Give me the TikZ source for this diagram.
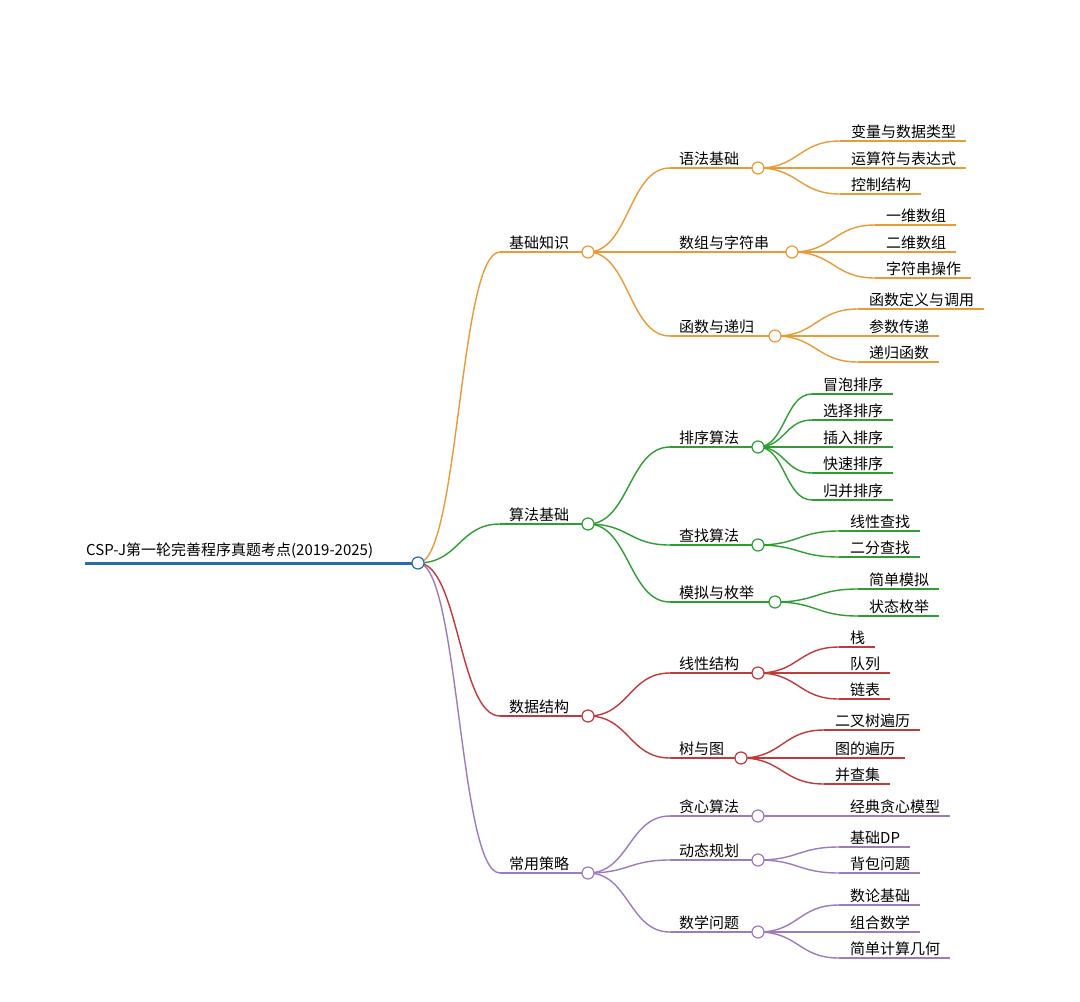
\documentclass[tikz,border=0pt]{standalone}
\usepackage{fontspec}
\setmainfont{Noto Sans CJK SC}
\usetikzlibrary{calc}
\definecolor{cO}{HTML}{E89B38}
\definecolor{cG}{HTML}{2E9E34}
\definecolor{cR}{HTML}{C0393B}
\definecolor{cP}{HTML}{9E7BBF}
\definecolor{cB}{HTML}{2A6DAF}
\tikzset{lbl/.style={anchor=south west,inner sep=2pt,font=\fontsize{15}{16}\selectfont},
 br/.style={line width=1.4pt},
 dot/.style={circle,fill=white,line width=1.2pt,minimum size=12pt,inner sep=0pt}}
\newcommand\curveto[3]{\draw[br,#3] let \p1=(#1), \p2=(#2) in (#1) .. controls ({\x1/2+\x2/2},\y1) and ({\x1/2+\x2/2},\y2) .. (#2);}
% name, parent, xs, y, cx, text, color
\newcommand\mmmid[7]{\coordinate (#1s) at (#3,#4); \coordinate (#1) at (#5,#4);
 \node[lbl] (#1t) at (#3+7,#4) {#6};
 \draw[br,#7] (#1s) -- (#1); \curveto{#2}{#1s}{#7}}
% name, parent, xs, y, text, color
\newcommand\mmleaf[6]{\coordinate (#1s) at (#3,#4);
 \node[lbl] (#1t) at (#3+9,#4) {#5};
 \coordinate (#1e) at ($(#1t.south east)+(8,0)$);
 \draw[br,#6] (#1s) -- (#1e); \curveto{#2}{#1s}{#6}}
\begin{document}
\begin{tikzpicture}[x=1pt,y=-1pt]
\useasboundingbox (0,0) rectangle (1080,1002);
\fill[white] (0,0) rectangle (1080,1002);
\coordinate (root) at (418,563);
\node[lbl,anchor=south west] (roott) at (84,561) {CSP-J第一轮完善程序真题考点(2019-2025)};
\draw[line width=3pt,cB] (85,563) -- (root);
% level 1
\mmmid{A}{root}{500}{252}{588}{基础知识}{cO}
\mmmid{B}{root}{500}{524}{588}{算法基础}{cG}
\mmmid{C}{root}{500}{716}{588}{数据结构}{cR}
\mmmid{D}{root}{500}{873}{588}{常用策略}{cP}
% level 2
\mmmid{A1}{A}{670}{168}{758}{语法基础}{cO}
\mmmid{A2}{A}{670}{252}{792}{数组与字符串}{cO}
\mmmid{A3}{A}{670}{336}{775}{函数与递归}{cO}
\mmmid{B1}{B}{670}{447}{758}{排序算法}{cG}
\mmmid{B2}{B}{670}{545}{758}{查找算法}{cG}
\mmmid{B3}{B}{670}{602}{775}{模拟与枚举}{cG}
\mmmid{C1}{C}{670}{673}{758}{线性结构}{cR}
\mmmid{C2}{C}{670}{758}{741}{树与图}{cR}
\mmmid{D1}{D}{670}{816}{758}{贪心算法}{cP}
\mmmid{D2}{D}{670}{860}{758}{动态规划}{cP}
\mmmid{D3}{D}{670}{932}{758}{数学问题}{cP}
% leaves
\mmleaf{a11}{A1}{840}{141}{变量与数据类型}{cO}
\mmleaf{a12}{A1}{840}{168}{运算符与表达式}{cO}
\mmleaf{a13}{A1}{840}{194}{控制结构}{cO}
\mmleaf{a21}{A2}{875}{225}{一维数组}{cO}
\mmleaf{a22}{A2}{875}{252}{二维数组}{cO}
\mmleaf{a23}{A2}{875}{278}{字符串操作}{cO}
\mmleaf{a31}{A3}{858}{309}{函数定义与调用}{cO}
\mmleaf{a32}{A3}{858}{336}{参数传递}{cO}
\mmleaf{a33}{A3}{858}{362}{递归函数}{cO}
\mmleaf{b11}{B1}{812}{394}{冒泡排序}{cG}
\mmleaf{b12}{B1}{812}{420}{选择排序}{cG}
\mmleaf{b13}{B1}{812}{447}{插入排序}{cG}
\mmleaf{b14}{B1}{812}{473}{快速排序}{cG}
\mmleaf{b15}{B1}{812}{500}{归并排序}{cG}
\mmleaf{b21}{B2}{839}{531}{线性查找}{cG}
\mmleaf{b22}{B2}{839}{557}{二分查找}{cG}
\mmleaf{b31}{B3}{858}{589}{简单模拟}{cG}
\mmleaf{b32}{B3}{858}{616}{状态枚举}{cG}
\mmleaf{c11}{C1}{839}{647}{栈}{cR}
\mmleaf{c12}{C1}{839}{673}{队列}{cR}
\mmleaf{c13}{C1}{839}{699}{链表}{cR}
\mmleaf{c21}{C2}{824}{730}{二叉树遍历}{cR}
\mmleaf{c22}{C2}{824}{758}{图的遍历}{cR}
\mmleaf{c23}{C2}{824}{784}{并查集}{cR}
\mmleaf{d11}{D1}{839}{816}{经典贪心模型}{cP}
\mmleaf{d21}{D2}{839}{847}{基础DP}{cP}
\mmleaf{d22}{D2}{839}{873}{背包问题}{cP}
\mmleaf{d31}{D3}{839}{905}{数论基础}{cP}
\mmleaf{d32}{D3}{839}{932}{组合数学}{cP}
\mmleaf{d33}{D3}{839}{958}{简单计算几何}{cP}
% dots
\node[dot,draw=cB] at (root) {};
\foreach \n in {A,A1,A2,A3} \node[dot,draw=cO] at (\n) {};
\foreach \n in {B,B1,B2,B3} \node[dot,draw=cG] at (\n) {};
\foreach \n in {C,C1,C2} \node[dot,draw=cR] at (\n) {};
\foreach \n in {D,D1,D2,D3} \node[dot,draw=cP] at (\n) {};
\end{tikzpicture}
\end{document}
